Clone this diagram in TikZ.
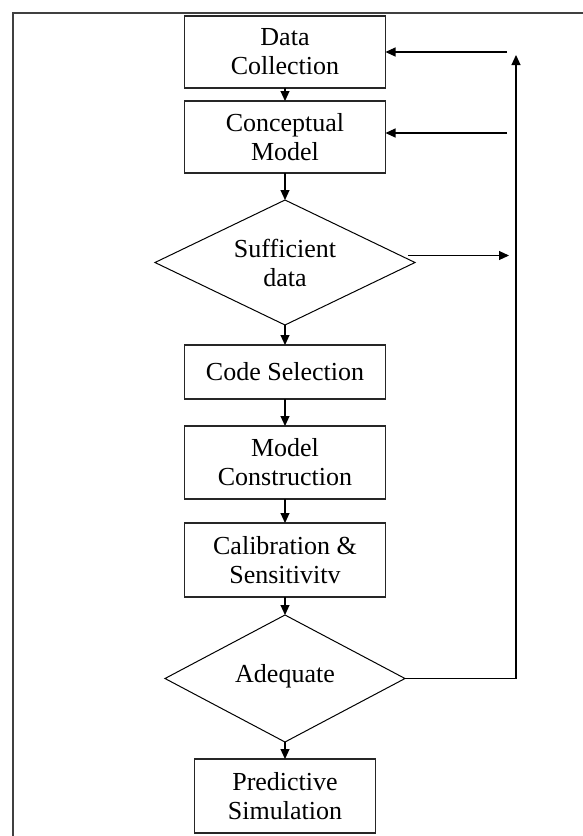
\documentclass[tikz,border=0pt]{standalone}
\usepackage{fontspec}
\setmainfont{Liberation Serif}
\usepackage{tikz}
\usetikzlibrary{positioning,shapes.geometric,arrows.meta}

\tikzset{
  box/.style={draw,line width=1.3pt,black!85,text=black,minimum width=201pt,align=center,inner sep=0pt,outer sep=0pt},
  dec/.style={draw,diamond,line width=1pt,align=center,inner sep=0pt,outer sep=0pt},
  arr/.style={line width=1.1pt,-{Triangle[length=10pt,width=9pt]}}
}

\begin{document}
\begin{tikzpicture}[x=1pt,y=1pt,font=\fontsize{26}{29}\selectfont]
      \useasboundingbox (0,0) rectangle (583,-836);
      \draw[line width=1.3pt,black!75] (13,-836) -- (13,-13) -- (583,-13);

      \node[box,minimum height=72pt] (dc) at (285,-52) {Data\\Collection};
      \node[box,minimum height=72pt,below=13pt of dc] (cm) {Conceptual\\Model};
      \node[dec,shape aspect=2.08,minimum width=260pt,minimum height=125pt,below=27pt of cm] (sd) {Sufficient\\data};
      \node[box,minimum height=54pt,below=20pt of sd] (cs) {Code Selection};
      \node[box,minimum height=73pt,below=27pt of cs] (mc) {Model\\Construction};
      \node[box,minimum height=74pt,below=24pt of mc] (cal) {Calibration \&\\Sensitivitv};
      \node[dec,shape aspect=1.89,minimum width=240pt,minimum height=127pt,below=18pt of cal] (adq) {\raisebox{11pt}{Adequate}};
      \node[box,minimum width=181pt,minimum height=74pt,below=17pt of adq] (ps) {Predictive\\Simulation};

      %down the chain
      \draw[arr] (dc) -- (cm);
      \draw[arr] (cm) -- (sd);
      \draw[arr] (sd) -- (cs);
      \draw[arr] (cs) -- (mc);
      \draw[arr] (mc) -- (cal);
      \draw[arr] (cal) -- (adq);
      \draw[arr] (adq) -- (ps);

      %feedback
      \coordinate (up) at (516,-55);
      \coordinate (fa) at (507,-52);
      \coordinate (fb) at (507,-133);
      \coordinate (fc) at ([shift={(-7pt,7pt)}]sd.east);
      \draw[arr] (adq.east) -| (up);
      \draw[arr] (fa) -- (fa -| dc.east);
      \draw[arr] (fb) -- (fb -| cm.east);
      \draw[arr,shorten >=7pt] (fc) -- (fc -| up);
    \end{tikzpicture}
\end{document}
